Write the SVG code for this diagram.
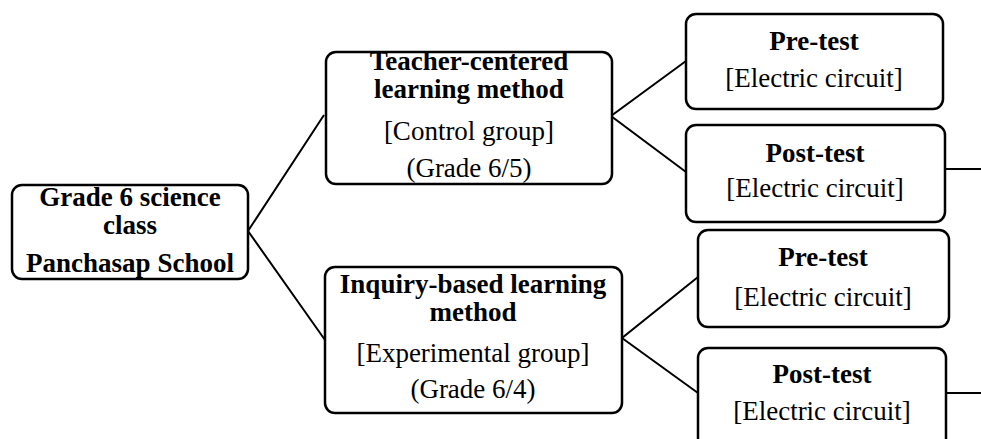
<svg xmlns="http://www.w3.org/2000/svg" width="981" height="439" viewBox="0 0 981 439">
  <style>
    .box { fill: #ffffff; stroke: #000000; stroke-width: 2.5; }
    .link { fill: none; stroke: #000000; stroke-width: 2; }
    text { font-family: "Liberation Serif", "Times New Roman", serif; font-size: 27px; fill: #000000; text-anchor: middle; }
    .b { font-weight: bold; }
  </style>
  <rect width="981" height="439" fill="#ffffff"/>

  <g id="connectors">
    <polyline class="link" points="324,115 248,231 325,340"/>
    <polyline class="link" points="686,61 611,116 686,172"/>
    <polyline class="link" points="698,277 622,338 698,393"/>
    <line class="link" x1="945" y1="169" x2="981" y2="169"/>
    <line class="link" x1="946" y1="393" x2="981" y2="393"/>
  </g>

  <g id="class">
    <rect class="box" x="12" y="185" width="236" height="94" rx="10"/>
    <text class="b" x="130" y="206">Grade 6 science</text>
    <text class="b" x="130" y="234">class</text>
    <text class="b" x="130" y="272">Panchasap School</text>
  </g>

  <g id="teacher-centered">
    <rect class="box" x="326" y="52" width="286" height="132" rx="10"/>
    <text class="b" x="469" y="70">Teacher-centered</text>
    <text class="b" x="469" y="98">learning method</text>
    <text x="469" y="140">[Control group]</text>
    <text x="469" y="177">(Grade 6/5)</text>
  </g>

  <g id="inquiry-based">
    <rect class="box" x="325" y="267" width="297" height="146" rx="10"/>
    <text class="b" x="473" y="293">Inquiry-based learning</text>
    <text class="b" x="473" y="321">method</text>
    <text x="473" y="362">[Experimental group]</text>
    <text x="473" y="398">(Grade 6/4)</text>
  </g>

  <g id="pretest-control">
    <rect class="box" x="686" y="14" width="257" height="95" rx="10"/>
    <text class="b" x="814" y="50">Pre-test</text>
    <text x="814" y="87">[Electric circuit]</text>
  </g>

  <g id="posttest-control">
    <rect class="box" x="686" y="125" width="259" height="97" rx="10"/>
    <text class="b" x="815" y="162">Post-test</text>
    <text x="815" y="197">[Electric circuit]</text>
  </g>

  <g id="pretest-experimental">
    <rect class="box" x="698" y="230" width="251" height="97" rx="10"/>
    <text class="b" x="823" y="266">Pre-test</text>
    <text x="823" y="306">[Electric circuit]</text>
  </g>

  <g id="posttest-experimental">
    <rect class="box" x="698" y="348" width="248" height="102" rx="10"/>
    <text class="b" x="822" y="383">Post-test</text>
    <text x="822" y="420">[Electric circuit]</text>
  </g>
</svg>
